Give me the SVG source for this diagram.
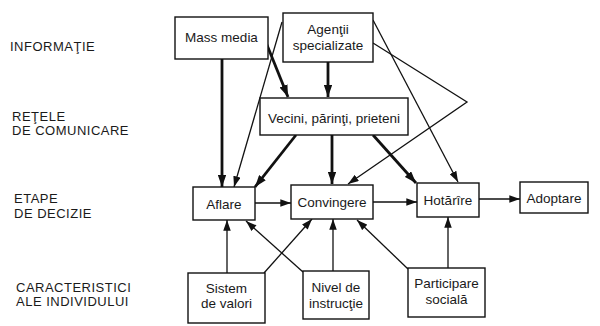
<svg xmlns="http://www.w3.org/2000/svg" width="600" height="326" viewBox="0 0 600 326">
<style>
text{font-family:"Liberation Sans",Arial,sans-serif;fill:#1a1a1a;}
.lab{font-size:13px;letter-spacing:0.5px;}
.nt{font-size:13.5px;text-anchor:middle;}
.box{fill:#fff;stroke:#111;stroke-width:1.4;}
.thin{stroke:#111;stroke-width:1.3;fill:none;}
.thick{stroke:#111;stroke-width:2.8;fill:none;}
</style>
<defs>
<marker id="ah" markerUnits="userSpaceOnUse" viewBox="0 0 10 7" refX="10" refY="3.5" markerWidth="11" markerHeight="7.5" orient="auto">
<path d="M0,0 L10,3.5 L0,7 Z" fill="#111"/>
</marker>
<marker id="ahb" markerUnits="userSpaceOnUse" viewBox="0 0 10 7" refX="10" refY="3.5" markerWidth="12" markerHeight="8.5" orient="auto">
<path d="M0,0 L10,3.5 L0,7 Z" fill="#111"/>
</marker>
</defs>
<rect width="600" height="326" fill="#fff"/>
<g id="labels">
<text class="lab" x="10" y="51">INFORMAŢIE</text>
<text class="lab" x="12" y="121">REŢELE</text>
<text class="lab" x="12" y="135">DE COMUNICARE</text>
<text class="lab" x="14" y="203">ETAPE</text>
<text class="lab" x="14" y="218">DE DECIZIE</text>
<text class="lab" x="16" y="292">CARACTERISTICI</text>
<text class="lab" x="16" y="306">ALE INDIVIDULUI</text>
</g>
<g id="connectors">
<line class="thick" x1="222" y1="59" x2="222" y2="187" marker-end="url(#ahb)"/>
<line class="thick" x1="263" y1="35" x2="288" y2="97" marker-end="url(#ahb)"/>
<line class="thin" x1="282" y1="22" x2="234" y2="187" marker-end="url(#ah)"/>
<line class="thick" x1="328" y1="62" x2="328" y2="97" marker-end="url(#ahb)"/>
<line class="thin" x1="373" y1="20" x2="458" y2="182" marker-end="url(#ah)"/>
<polyline class="thin" points="373,43 467,102 348,184" marker-end="url(#ah)"/>
<line class="thick" x1="296" y1="135" x2="255" y2="187" marker-end="url(#ahb)"/>
<line class="thick" x1="332" y1="135" x2="332" y2="184" marker-end="url(#ahb)"/>
<line class="thick" x1="373" y1="135" x2="416" y2="183" marker-end="url(#ahb)"/>
<line class="thin" x1="255" y1="203" x2="291" y2="203" marker-end="url(#ah)"/>
<line class="thin" x1="373" y1="202" x2="417" y2="202" marker-end="url(#ah)"/>
<line class="thin" x1="479" y1="199" x2="520" y2="199" marker-end="url(#ah)" style="stroke-width:1.6"/>
<line class="thin" x1="227" y1="273" x2="227" y2="220" marker-end="url(#ah)"/>
<line class="thin" x1="264" y1="273" x2="312" y2="219" marker-end="url(#ah)"/>
<line class="thin" x1="303" y1="272" x2="246" y2="221" marker-end="url(#ah)"/>
<line class="thin" x1="333" y1="271" x2="333" y2="219" marker-end="url(#ah)"/>
<line class="thin" x1="408" y1="269" x2="357" y2="220" marker-end="url(#ah)"/>
<line class="thin" x1="448" y1="268" x2="448" y2="217" marker-end="url(#ah)"/>
</g>
<g id="mass-media"><rect class="box" x="175" y="17" width="93" height="42"/><text class="nt" x="221.5" y="42">Mass media</text></g>
<g id="agentii"><rect class="box" x="283" y="13" width="90" height="49"/><text class="nt" x="328" y="34">Agenţii</text><text class="nt" x="328" y="50">specializate</text></g>
<g id="vecini"><rect class="box" x="260" y="98" width="148" height="37"/><text class="nt" x="334" y="123">Vecini, părinţi, prieteni</text></g>
<g id="aflare"><rect class="box" x="193" y="187" width="62" height="33"/><text class="nt" x="224" y="209">Aflare</text></g>
<g id="convingere"><rect class="box" x="291" y="185" width="82" height="34"/><text class="nt" x="332" y="207">Convingere</text></g>
<g id="hotarire"><rect class="box" x="417" y="183" width="62" height="34"/><text class="nt" x="448" y="205">Hotărîre</text></g>
<g id="adoptare"><rect class="box" x="520" y="182" width="68" height="31"/><text class="nt" x="554" y="203">Adoptare</text></g>
<g id="sistem"><rect class="box" x="188" y="273" width="77" height="50"/><text class="nt" x="226.5" y="293">Sistem</text><text class="nt" x="226.5" y="308">de valori</text></g>
<g id="nivel"><rect class="box" x="303" y="271" width="66" height="48"/><text class="nt" x="336" y="292">Nivel de</text><text class="nt" x="336" y="308">instrucţie</text></g>
<g id="participare"><rect class="box" x="408" y="268" width="77" height="49"/><text class="nt" x="446.5" y="288">Participare</text><text class="nt" x="446.5" y="304">socială</text></g>
</svg>
